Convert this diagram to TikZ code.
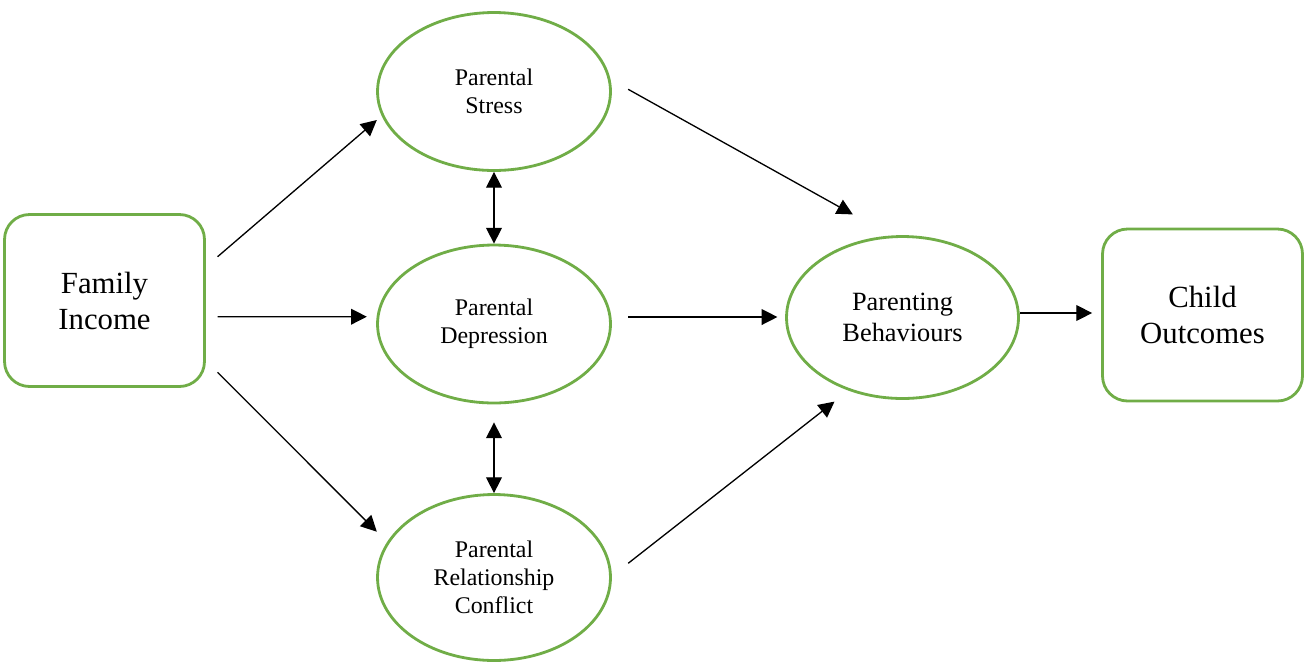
\documentclass[tikz,border=0pt]{standalone}
\usepackage{fontspec}
\setmainfont{Liberation Serif}
\usetikzlibrary{arrows.meta, shapes.geometric}
\definecolor{boxgreen}{RGB}{112,173,71}

\begin{document}
\begin{tikzpicture}[x=0.02cm, y=-0.02cm,
		box/.style={draw=boxgreen, line width=1.6pt, rounded corners=0.5cm, minimum width=4cm, minimum height=3.44cm, align=center, font=\fontsize{17.5}{20.5}\selectfont},
		oval/.style={draw=boxgreen, line width=1.6pt, ellipse, inner sep=0pt, minimum width=4.66cm, minimum height=3.16cm, align=center, font=\fontsize{13.6}{15.9}\selectfont},
		arr/.style={-{Triangle[length=9pt,width=9pt]}, line width=0.75pt},
		dbl/.style={{Triangle[length=9pt,width=9pt]}-{Triangle[length=9pt,width=9pt]}, line width=0.75pt}]
		\useasboundingbox (0,0) rectangle (1305,664);
		\node[box] (income) at (104.5,300.5) {Family\\Income};
		\node[oval] (stress) at (494,91.5) {Parental\\Stress};
		\node[oval] (depression) at (494,324) {Parental\\Depression};
		\node[oval, minimum height=3.32cm] (conflict) at (494,577.5) {Parental\\Relationship\\Conflict};
		\node[oval, minimum width=4.64cm, minimum height=3.24cm, font=\fontsize{15}{17.6}\selectfont] (parenting) at (902.5,317.5) {Parenting\\Behaviours};
		\node[box] (child) at (1202.5,315) {Child\\Outcomes};
		\draw[arr] ([shift={(11.7,-43.8)}]income.east) -- ([shift={(0.7,28.5)}]stress.west);
		\draw[arr] ([shift={(11.7,16.2)}]income.east) -- ([shift={(-9.3,-7.3)}]depression.west);
		\draw[arr] ([shift={(11.7,71.8)}]income.east) -- ([shift={(0.7,-45.8)}]conflict.west);
		\draw[dbl] (stress.south) -- (depression.north);
		\draw[dbl] ([shift={(0,18)}]depression.south) -- (conflict.north);
		\draw[arr] ([shift={(16.3,-2.2)}]stress.east) -- ([shift={(-49.7,-20.7)}]parenting.north);
		\draw[arr] ([shift={(16.3,-7)}]depression.east) -- ([shift={(-7.7,-0.5)}]parenting.west);
		\draw[arr] ([shift={(16.3,-14.2)}]conflict.east) -- ([shift={(-68,1.7)}]parenting.south);
		\draw[arr] ([shift={(0,-4.5)}]parenting.east) -- ([shift={(-9,-2)}]child.west);
	\end{tikzpicture}
\end{document}
